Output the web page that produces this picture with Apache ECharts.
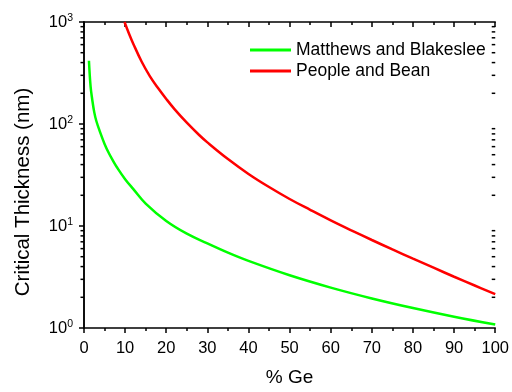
<!DOCTYPE html>
<html>
<head>
<meta charset="utf-8">
<script src="https://cdn.jsdelivr.net/npm/echarts@6/dist/echarts.min.js"></script>
<style>html,body{margin:0;padding:0;background:#fff;}#c{width:512px;height:392px;}</style>
</head>
<body>
<div id="c"></div>
<script>
var seriesNames = ['Matthews and Blakeslee', 'People and Bean'];
var mbX = [1.2, 1.6, 2, 2.5, 3, 4, 5, 6, 7, 8, 10, 12, 15, 20, 25, 30, 35, 40, 50, 60, 70, 80, 90, 100];
var mbY = [417, 234, 174, 130, 107, 81.3, 63.8, 52.2, 44.0, 37.7, 28.8, 23.0, 16.6, 11.2, 8.41, 6.76, 5.48, 4.55, 3.29, 2.49, 1.95, 1.57, 1.29, 1.08];
var pbX = [9.85, 11, 12, 14, 16, 18, 20, 22, 25, 28, 30, 35, 40, 45, 50, 55, 60, 65, 70, 75, 80, 85, 90, 95, 100];
var pbY = [1000, 759, 610, 410, 295, 225, 176, 140, 103, 78, 66, 45.3, 32.4, 24.1, 18.4, 14.4, 11.35, 9.06, 7.29, 5.89, 4.78, 3.9, 3.18, 2.61, 2.15];
var xTicks = [0, 10, 20, 30, 40, 50, 60, 70, 80, 90, 100];
var yMinorTicks = [2,3,4,5,6,7,8,9,20,30,40,50,60,70,80,90,200,300,400,500,600,700,800,900];

function zip(a, b) { return a.map(function (v, i) { return [v, b[i]]; }); }

var chart = echarts.init(document.getElementById('c'));
var font = 'Liberation Sans, Arial, sans-serif';
var axisLine = { show: true, lineStyle: { color: '#000', width: 1.5 } };
var tickStyle = { color: '#000', width: 1.5 };
chart.setOption({
  animation: false,
  backgroundColor: '#fff',
  grid: { left: 84, right: 15, top: 22, bottom: 64 },
  legend: {
    data: seriesNames,
    orient: 'vertical',
    left: 245, top: 36,
    icon: 'rect', itemWidth: 41, itemHeight: 3, itemGap: 3,
    textStyle: { fontFamily: font, fontSize: 17.5, color: '#000' }
  },
  xAxis: [{
    type: 'value', min: 0, max: 100, interval: 10, position: 'bottom',
    name: '% Ge', nameLocation: 'middle', nameGap: 40,
    nameTextStyle: { fontFamily: font, fontSize: 19, color: '#000' },
    axisLine: axisLine,
    axisTick: { show: true, inside: false, length: 5, lineStyle: tickStyle },
    minorTick: { show: true, splitNumber: 2, length: 3, lineStyle: tickStyle },
    axisLabel: { fontFamily: font, fontSize: 16.5, color: '#000', margin: 12,
      formatter: function (v) { return xTicks.indexOf(v) >= 0 ? String(v) : ''; } },
    splitLine: { show: false }
  }, {
    type: 'value', min: 0, max: 100, interval: 10, position: 'top',
    axisLine: axisLine,
    axisTick: { show: true, inside: true, length: 5, lineStyle: tickStyle },
    minorTick: { show: true, splitNumber: 2, length: 3, lineStyle: tickStyle },
    axisLabel: { show: false }, splitLine: { show: false }
  }],
  yAxis: [{
    type: 'log', logBase: 10, min: 1, max: 1000, position: 'left',
    name: 'Critical Thickness (nm)', nameLocation: 'middle', nameGap: 50,
    nameTextStyle: { fontFamily: font, fontSize: 20.5, color: '#000', padding: [0, 34, 0, 0] },
    axisLine: axisLine,
    axisTick: { show: true, inside: false, length: 5, lineStyle: tickStyle },
    axisLabel: {
      fontFamily: font, fontSize: 16.5, color: '#000', margin: 11,
      formatter: function (v) { return '10{s|' + Math.round(Math.log10(v)) + '}'; },
      rich: { s: { fontSize: 10.5, fontFamily: font, color: '#000', verticalAlign: 'top', padding: [0, 0, 8, 0] } }
    },
    splitLine: { show: false }
  }, {
    type: 'log', logBase: 10, min: 1, max: 1000, position: 'right',
    axisLine: axisLine,
    axisTick: { show: true, inside: true, length: 5, lineStyle: tickStyle },
    axisLabel: { show: false }, splitLine: { show: false }
  }],
  series: [{
    name: seriesNames[0], type: 'line', data: zip(mbX, mbY), smooth: 0.4,
    showSymbol: false, symbol: 'none', color: '#00ff00',
    lineStyle: { color: '#00ff00', width: 2.5 }, z: 3
  }, {
    name: seriesNames[1], type: 'line', data: zip(pbX, pbY), smooth: 0.4,
    showSymbol: false, symbol: 'none', color: '#ff0000',
    lineStyle: { color: '#ff0000', width: 2.5 }, z: 3
  }, {
    type: 'custom', silent: true, clip: false, z: 10,
    data: yMinorTicks.map(function (v) { return [50, v]; }),
    renderItem: function (params, api) {
      var pL = api.coord([0, api.value(1)]);
      var pR = api.coord([100, api.value(1)]);
      var st = { stroke: '#000', lineWidth: 1.5 };
      return { type: 'group', children: [
        { type: 'line', shape: { x1: pL[0] - 3.5, y1: pL[1], x2: pL[0], y2: pL[1] }, style: st },
        { type: 'line', shape: { x1: pR[0] - 3.5, y1: pR[1], x2: pR[0], y2: pR[1] }, style: st }
      ] };
    }
  }]
});
</script>
</body>
</html>
